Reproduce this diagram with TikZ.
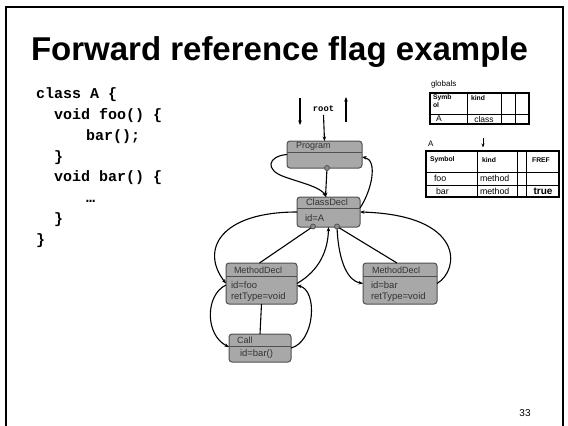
\documentclass[tikz,border=0pt]{standalone}
\usepackage{fontspec}
\setmainfont{Liberation Sans}
\setmonofont{Liberation Mono}
\usetikzlibrary{arrows.meta}
\definecolor{boxfill}{HTML}{A8A8A8}
\definecolor{boxline}{HTML}{505050}
\definecolor{dotfill}{HTML}{8C8C8C}
\definecolor{nodetext}{HTML}{333333}
\begin{document}
\begin{tikzpicture}[x=1pt,y=-1pt,
  every node/.style={inner sep=0pt, outer sep=0pt},
  astbox/.style={draw=boxline, fill=boxfill, rounded corners=3pt, line width=1pt},
  divline/.style={draw=boxline, line width=1pt},
  hdr/.style={anchor=west, font=\fontsize{9}{10}\selectfont, text=nodetext},
  bodytxt/.style={anchor=west, font=\fontsize{9.5}{11}\selectfont, text=nodetext},
  dotn/.style={circle, draw=boxline, fill=dotfill, minimum size=5pt, line width=0.8pt},
  conn/.style={line width=1.1pt, -{Stealth[length=4.5pt,width=3.5pt]}},
  bareline/.style={line width=1.1pt},
  codeline/.style={anchor=base west, font=\ttfamily\bfseries\fontsize{15}{15}\selectfont},
  tabout/.style={line width=1.5pt},
  tabin/.style={line width=0.8pt},
  tabhead/.style={anchor=west, font=\bfseries\fontsize{6.8}{6.3}\selectfont, align=left},
  tabcell/.style={anchor=west, font=\fontsize{8.8}{9}\selectfont},
]
\useasboundingbox (0,0) rectangle (568,426);
\fill[white] (0,0) rectangle (568,426);
% slide frame
\draw[line width=1.5pt] (6,440) -- (6,7) -- (563,7) -- (563,440);

% title
\node[anchor=base west, font=\bfseries\fontsize{33}{33}\selectfont] (title) at (31,60) {Forward reference flag example};

% code
\node[codeline] (c1) at (36,98) {class A \{};
\node[codeline] (c2) at (54,119) {void foo() \{};
\node[codeline] (c3) at (86,140) {bar();};
\node[codeline] (c4) at (54,161) {\}};
\node[codeline] (c5) at (54,181) {void bar() \{};
\node[codeline] (c6) at (86,202) {…};
\node[codeline] (c7) at (54,223) {\}};
\node[codeline] (c8) at (36,244) {\}};

% root
\node[font=\ttfamily\bfseries\fontsize{8.8}{9}\selectfont] (root) at (323.5,109) {root};
\coordinate (la1) at (300,98);
\coordinate (la2) at (300,125);
\coordinate (ra1) at (346,122);
\coordinate (ra2) at (346,97);

% AST nodes
\node[astbox, minimum width=75pt, minimum height=27pt] (prog) at (324.5,154.5) {};
\draw[divline] (287,152) -- (362,152);
\node[hdr] (progt) at (296,146.5) {Program};

\node[astbox, minimum width=63pt, minimum height=30pt] (cls) at (328.5,212) {};
\draw[divline] (297,208) -- (360,208);
\node[hdr, font=\fontsize{9.3}{10}\selectfont] (clst) at (306,202.5) {ClassDecl};
\node[bodytxt] (clsb) at (305,218.5) {id=A};

\node[astbox, minimum width=71pt, minimum height=41pt] (foo) at (261.5,283.5) {};
\draw[divline] (226,276) -- (297,276);
\node[hdr] (foot) at (234,270) {MethodDecl};
\node[bodytxt] (foob1) at (231,285.5) {id=foo};
\node[bodytxt] (foob2) at (231,297) {retType=void};

\node[astbox, minimum width=74pt, minimum height=41pt] (bar) at (400,283.5) {};
\draw[divline] (363,276) -- (437,276);
\node[hdr] (bart) at (372,270) {MethodDecl};
\node[bodytxt] (barb1) at (371,285.5) {id=bar};
\node[bodytxt] (barb2) at (371,297) {retType=void};

\node[astbox, minimum width=62pt, minimum height=28pt] (call) at (260,348) {};
\draw[divline] (229,346) -- (291,346);
\node[hdr] (callt) at (237,340) {Call};
\node[bodytxt] (callb) at (240,354.5) {id=bar()};

% connectors
\draw[conn] (la1) -- (la2);
\draw[conn] (ra1) -- (ra2);
\draw[conn] ([yshift=-3pt]root.south) -- (prog.north);

\coordinate (pdotc) at (327,168);
\coordinate (cdot1c) at (313,226.5);
\coordinate (cdot2c) at (337,226.5);

\draw[conn] (pdotc) -- ([xshift=-3pt]cls.north);
\draw[conn] (prog.west) .. controls (268,156) and (264,170) .. (285,177) .. controls (305,184) and (320,187) .. ([xshift=-2pt]cls.north);
\draw[conn] ([yshift=4pt]cls.east) .. controls (372,190) and (378,160) .. ([yshift=-2.5pt]prog.east);
\draw[conn] (cls.west) .. controls (220,212) and (200,250) .. (foo.west);
\draw[conn] ([yshift=-1.5pt]foo.west) .. controls (205,295) and (205,335) .. ([yshift=1pt]call.west);
\draw[bareline] (foo.south) -- (call.north);
\draw[conn] (call.east) .. controls (315,342) and (318,290) .. ([yshift=-2pt]foo.east);
\draw[conn] (foo.east) .. controls (320,270) and (328,250) .. (cls.south);
\draw[bareline] (cdot1c) -- ([xshift=-2pt]foo.north);
\draw[bareline] (cdot2c) -- ([xshift=-3pt]bar.north);
\draw[conn] (cdot2c) .. controls (338,255) and (345,280) .. (bar.west);
\draw[conn] (bar.east) .. controls (460,270) and (465,215) .. (cls.east);

\node[dotn] (pdot) at (pdotc) {};
\node[dotn] (cdot1) at (cdot1c) {};
\node[dotn] (cdot2) at (cdot2c) {};

% globals table
\node[anchor=west, font=\fontsize{8}{8}\selectfont] (glab) at (431,84) {globals};
\draw[tabin] (467,93) -- (467,124);
\draw[tabin] (501,93) -- (501,124);
\draw[tabin] (515,93) -- (515,124);
\draw[tabin] (430,114) -- (529,114);
\draw[tabout] (430,93) rectangle (529,124);
\node[tabhead] (gh1) at (433,101) {Symb\\ol};
\node[tabhead] (gh2) at (471,98) {kind};
\node[tabcell, font=\fontsize{8.5}{9}\selectfont] (gc1) at (436,119) {A};
\node[tabcell, anchor=center, font=\fontsize{8.5}{9}\selectfont] (gc2) at (484,119) {class};

% arrow between tables
\node[anchor=west, font=\fontsize{8}{8}\selectfont] (alab) at (428,144) {A};
\coordinate (ta1) at (483,138);
\coordinate (ta2) at (483,147.5);
\draw[line width=0.9pt, -{Stealth[length=4pt,width=3pt]}] (ta1) -- (ta2);

% A table
\draw[tabin] (477,151) -- (477,197);
\draw[tabin] (517,151) -- (517,197);
\draw[tabin] (526,151) -- (526,197);
\draw[tabin] (426,172) -- (559,172);
\draw[tabin] (426,185) -- (559,185);
\draw[tabout] (426,151) rectangle (559,197);
\node[tabhead] (ah1) at (430,160) {Symbol};
\node[tabhead] (ah2) at (482,160) {kind};
\node[tabhead, anchor=center] (ah3) at (541,160) {FREF};
\node[tabcell] (ac1) at (434,178.5) {foo};
\node[tabcell] (ac2) at (480,178.5) {method};
\node[tabcell] (ac3) at (436,191) {bar};
\node[tabcell] (ac4) at (480,191) {method};
\node[tabcell, anchor=center, font=\bfseries\fontsize{10}{10}\selectfont] (ac5) at (543,191) {true};

% page number
\node[font=\fontsize{10}{10}\selectfont] (pnum) at (525,413) {33};
\end{tikzpicture}
\end{document}
